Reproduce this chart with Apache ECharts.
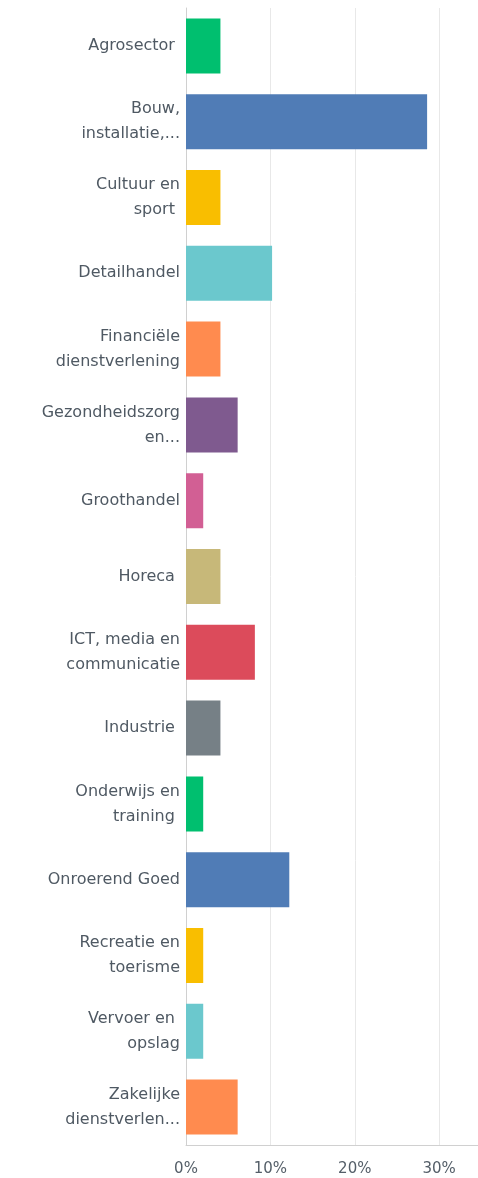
<!DOCTYPE html>
<html>
<head>
<meta charset="utf-8">
<script src="https://cdn.jsdelivr.net/npm/echarts@6/dist/echarts.min.js"></script>
<style>
html,body{margin:0;padding:0;background:#fff;}
#c{width:478px;height:1178px;}
</style>
</head>
<body>
<div id="c"></div>
<script>
const categories = [
  "Agrosector ",
  "Bouw,\ninstallatie,...",
  "Cultuur en\nsport ",
  "Detailhandel",
  "Financiële\ndienstverlening",
  "Gezondheidszorg\nen...",
  "Groothandel",
  "Horeca ",
  "ICT, media en\ncommunicatie",
  "Industrie ",
  "Onderwijs en\ntraining ",
  "Onroerend Goed",
  "Recreatie en\ntoerisme",
  "Vervoer en \nopslag",
  "Zakelijke\ndienstverlen..."
];
const values = [4.08, 28.57, 4.08, 10.20, 4.08, 6.12, 2.04, 4.08, 8.16, 4.08, 2.04, 12.24, 2.04, 2.04, 6.12];
const colors = ["#00BF6F", "#507CB6", "#F9BE00", "#6BC8CD", "#FF8B4F", "#7F5A8F", "#D25F94", "#C7B879", "#DC4B5B", "#768086", "#00BF6F", "#507CB6", "#F9BE00", "#6BC8CD", "#FF8B4F"];
const tickLabels = ["0%", "10%", "20%", "30%"];

const chart = echarts.init(document.getElementById('c'), null, {renderer: 'canvas'});
chart.setOption({
  animation: false,
  grid: {left: 186, right: 0, top: 8, bottom: 33, containLabel: false},
  xAxis: {
    type: 'value', min: 0, max: 34.6, interval: 10,
    axisLine: {show: true, lineStyle: {color: '#d0d0d0', width: 1}},
    axisTick: {show: false},
    splitLine: {show: true, lineStyle: {color: '#e8e8e8', width: 1}},
    axisLabel: {
      showMaxLabel: false, margin: 17,
      color: '#545e68', fontFamily: 'DejaVu Sans', fontSize: 15,
      formatter: v => tickLabels[Math.round(v / 10)] || ''
    }
  },
  yAxis: {
    type: 'category', data: categories, inverse: true,
    axisLine: {show: true, lineStyle: {color: '#d0d0d0', width: 1}},
    axisTick: {show: false},
    axisLabel: {
      margin: 6, color: '#4f5963', fontFamily: 'DejaVu Sans', fontSize: 16,
      lineHeight: 25, align: 'right'
    }
  },
  series: [{
    type: 'bar', data: values.map((v, i) => ({value: v, itemStyle: {color: colors[i]}})),
    barWidth: 55
  }]
});
</script>
</body>
</html>
